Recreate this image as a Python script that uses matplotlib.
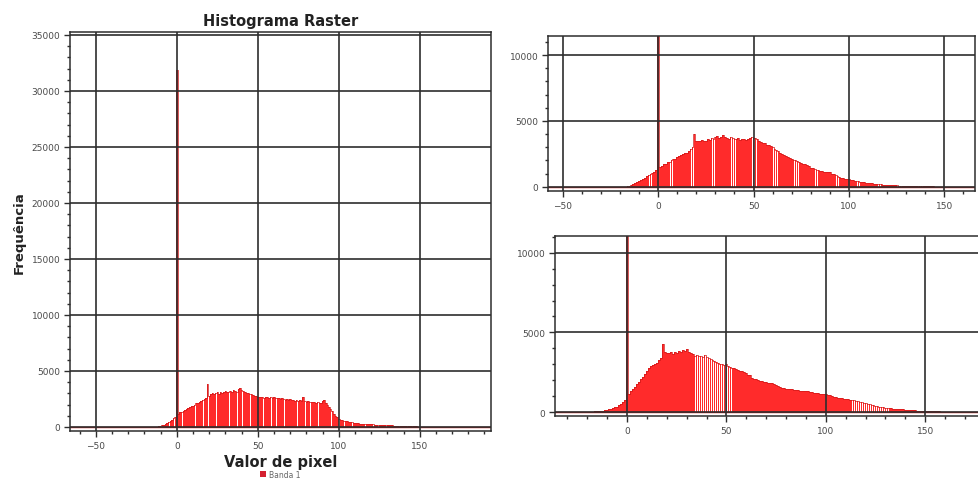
import numpy as np
import matplotlib
matplotlib.use("Agg")
import matplotlib.pyplot as plt
from matplotlib.ticker import MultipleLocator
from matplotlib.patches import Patch

# ---------------- data (pixel value bins of width 1) ----------------
x_start_a = -20
freq_a = [
    0, 0, 0, 0, 10, 10, 20, 30,
    40, 60, 90, 130, 180, 240, 320, 400, 500, 620, 760, 900,
    31900,
    1200, 1300, 1350, 1450, 1500, 1600, 1700, 1750, 1850, 1900,
    2000, 2100, 2150, 2250, 2300, 2450, 2500, 2600, 3850, 2800,
    2900, 3000, 2950, 3050, 3100, 2950, 3150, 3050, 3100, 3200,
    3150, 3100, 3250, 3150, 3300, 3200, 3150, 3350, 3450, 3300,
    3200, 3100, 3050, 3000, 2950, 2900, 2850, 2800, 2750, 2700,
    2700, 2650, 2700, 2600, 2650, 2700, 2600, 2650, 2600, 2650,
    2600, 2550, 2600, 2500, 2550, 2500, 2450, 2500, 2450, 2500,
    2400, 2450, 2350, 2400, 2350, 2400, 2300, 2650, 2300, 2250,
    2300, 2250, 2200, 2250, 2200, 2150, 2200, 2100, 2150, 2300,
    2450, 2150, 2000, 1800, 1600, 1400, 1200, 1000, 850, 700,
    620, 580, 550, 520, 490, 460, 430, 400, 370, 350,
    330, 310, 300, 290, 280, 270, 260, 250, 240, 230,
    220, 210, 200, 190, 185, 180, 175, 170, 165, 160,
    150, 140, 130, 125, 120, 115, 110, 100, 95, 90,
    80, 75, 70, 65, 60, 55, 50, 45, 40, 30,
    25, 20, 18, 15, 12, 10, 8, 6, 5, 4, 3, 2, 1, 1, 0,
]

x_start_b = -20
freq_b = [
    0, 0, 10, 20, 40, 80,
    150, 220, 300, 350, 420, 500, 600, 700, 800, 880, 950, 1020, 1100, 1250,
    31900,
    1500, 1600, 1700, 1750, 1850, 1900, 2000, 2100, 2150, 2250,
    2350, 2450, 2500, 2550, 2600, 2700, 2850, 3000, 4000, 3450,
    3500, 3450, 3550, 3500, 3480, 3600, 3550, 3700, 3650, 3800,
    3860, 3700, 3800, 3950, 3750, 3700, 3650, 3800, 3740, 3650,
    3600, 3700, 3550, 3600, 3600, 3550, 3650, 3700, 3750, 3740,
    3700, 3600, 3480, 3400, 3350, 3300, 3200, 3150, 3100, 3000,
    2900, 2800, 2700, 2600, 2500, 2450, 2350, 2300, 2220, 2150,
    2050, 2000, 1950, 1880, 1840, 1760, 1700, 1620, 1550, 1460,
    1400, 1350, 1300, 1250, 1210, 1180, 1150, 1120, 1100, 1090,
    1000, 950, 880, 800, 720, 680, 650, 620, 600, 580,
    540, 510, 480, 450, 420, 390, 360, 340, 310, 290,
    280, 260, 240, 220, 210, 200, 190, 175, 165, 155,
    145, 135, 125, 115, 110, 100, 95, 90, 85, 80,
    75, 70, 65, 60, 55, 50, 48, 45, 40, 38,
    35, 32, 30, 28, 25, 22, 20, 18, 15, 12,
    10, 9, 8, 7, 6, 5, 4, 3, 3, 2, 2, 1, 1, 0, 0,
]

x_start_c = -20
freq_c = [
    0, 10, 20, 30, 40, 50, 60,
    80, 100, 130, 160, 190, 220, 260, 300, 350, 420, 500, 620, 760,
    31900,
    1110, 1300, 1450, 1600, 1750, 1900, 2050, 2200, 2400, 2550,
    2750, 2900, 2950, 3050, 3110, 3250, 3400, 4270, 3800, 3740,
    3700, 3750, 3650, 3800, 3740, 3850, 3750, 3900, 3850, 3950,
    3800, 3700, 3650, 3530, 3600, 3500, 3550, 3450, 3570, 3450,
    3400, 3350, 3300, 3210, 3150, 3100, 3050, 3000, 2950, 3000,
    2900, 2850, 2790, 2750, 2700, 2650, 2600, 2580, 2500, 2450,
    2350, 2300, 2160, 2100, 2050, 2000, 1980, 1950, 1900, 1880,
    1850, 1820, 1850, 1750, 1700, 1650, 1600, 1530, 1500, 1480,
    1450, 1430, 1430, 1400, 1380, 1360, 1350, 1340, 1330, 1320,
    1300, 1280, 1250, 1230, 1200, 1180, 1160, 1140, 1120, 1110,
    1080, 1050, 1000, 960, 920, 900, 880, 860, 840, 820,
    800, 780, 760, 740, 700, 690, 660, 620, 590, 550,
    520, 490, 460, 430, 400, 380, 350, 320, 300, 280,
    270, 250, 240, 225, 215, 210, 200, 185, 170, 160,
    150, 140, 130, 120, 110, 100, 90, 80, 70, 65,
    60, 55, 50, 48, 45, 42, 40, 38, 36, 34, 32, 30, 28, 26, 24,
    22, 20, 18, 16, 14, 12, 10, 9, 8, 7, 6, 5, 4, 3, 2,
]

title = "Histograma Raster"
xlabel = "Valor de pixel"
ylabel = "Frequência"
legend_label = "Banda 1"

# ---------------- styling ----------------
RED = "#ff2b2b"
EDGE = "#d01818"
GRID = "#2e2e2e"
TXT = "#4a4a4a"

fig = plt.figure(figsize=(9.79, 4.89), dpi=100)


def draw(ax, x0, vals, xlim, ylim, xticks, yticks):
    x = np.arange(x0, x0 + len(vals))
    ax.bar(x, vals, width=0.88, color=RED, linewidth=0, zorder=1)
    ax.step(x, vals, where="mid", color=EDGE, lw=0.5, zorder=1.2)
    ax.axhline(0, color=EDGE, lw=1.0, zorder=1.3)
    ax.set_xlim(*xlim)
    ax.set_ylim(*ylim)
    ax.set_xticks(xticks)
    ax.set_yticks(yticks)
    ax.xaxis.set_minor_locator(MultipleLocator(10))
    ax.yaxis.set_minor_locator(MultipleLocator(1000))
    ax.grid(True, which="major", color=GRID, lw=1.2)
    ax.set_axisbelow(False)
    ax.tick_params(which="major", direction="out", length=4, width=1,
                   color=GRID, labelsize=6.5, labelcolor=TXT, pad=3)
    ax.tick_params(which="minor", direction="out", length=2.5, width=1,
                   color=GRID)
    for s in ax.spines.values():
        s.set_color(GRID)
        s.set_linewidth(1.1)


# left panel
axA = fig.add_axes([0.0715, 0.1166, 0.430, 0.816])
draw(axA, x_start_a, freq_a, (-66, 194), (-360, 35270),
     [-50, 0, 50, 100, 150], list(range(0, 35001, 5000)))
axA.set_title(title, fontsize=10.5, fontweight="bold", color="#222222", pad=5)
axA.set_xlabel(xlabel, fontsize=10.5, fontweight="bold", color="#222222", labelpad=3)
axA.set_ylabel(ylabel, fontsize=9.5, fontweight="bold", color="#222222", labelpad=4)
leg = axA.legend(handles=[Patch(facecolor="#d42030", edgecolor="none", label=legend_label)],
                 loc="upper center", bbox_to_anchor=(0.5, -0.08), frameon=False,
                 fontsize=5.5, handlelength=0.8, handleheight=0.8, handletextpad=0.4)
for t in leg.get_texts():
    t.set_color("#666666")

# top right panel
axB = fig.add_axes([0.5598, 0.607, 0.436, 0.317])
draw(axB, x_start_b, freq_b, (-57.7, 166), (-330, 11440),
     [-50, 0, 50, 100, 150], [0, 5000, 10000])

# bottom right panel
axC = fig.add_axes([0.567, 0.147, 0.445, 0.368])
draw(axC, x_start_c, freq_c, (-36.2, 183), (-250, 11040),
     [0, 50, 100, 150], [0, 5000, 10000])

fig.savefig("out.png", dpi=100)
